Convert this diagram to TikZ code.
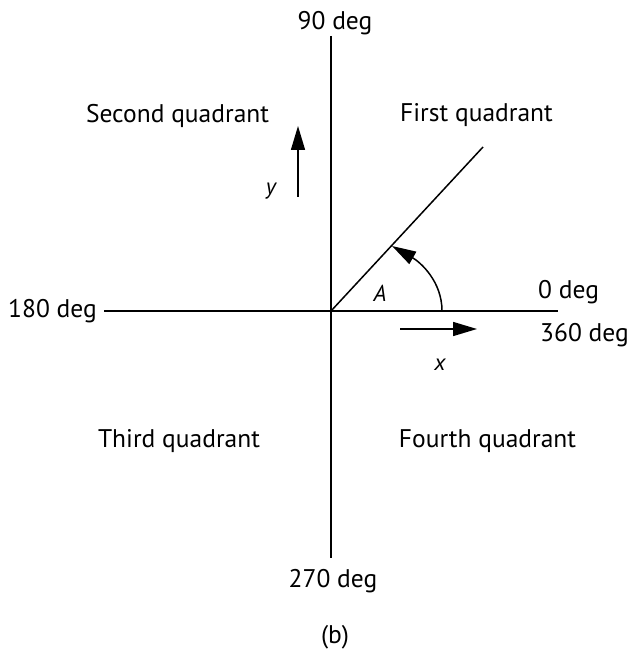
\documentclass[tikz,border=0pt]{standalone}
\usepackage{fontspec}
\setmainfont{PT Sans}
\usetikzlibrary{arrows.meta}
\begin{document}
\begin{tikzpicture}[x=1pt,y=-1pt,
  lbl/.style={anchor=base, inner sep=0pt, font=\fontsize{25.5}{30}\selectfont},
  var/.style={anchor=base, inner sep=0pt, font=\fontsize{23}{27}\selectfont\itshape},
  axisline/.style={line width=1.5pt},
  arr/.style={-{Triangle[length=24pt,width=14pt]}, line width=1.5pt}]
\useasboundingbox (0,0) rectangle (630,652);
% axis end points
\coordinate (O) at (331,311);
\coordinate (top) at (331,36);
\coordinate (bot) at (331,558);
\coordinate (lft) at (104,311);
\coordinate (rgt) at (558,311);
\coordinate (D) at (483,147);
\coordinate (arcS) at (442,311);
\coordinate (arcE) at (392,246);
\coordinate (ya) at (298,197);
\coordinate (yb) at (298,126);
\coordinate (xa) at (400,329);
\coordinate (xb) at (477,329);
% axes
\draw[axisline] (top) -- (bot);
\draw[axisline] (lft) -- (rgt);
\draw[axisline] (O) -- (D);
% angle arrow
\draw[arr] (arcS) .. controls (442,281) and (420,262) .. (arcE);
% direction arrows
\draw[arr] (ya) -- (yb);
\draw[arr] (xa) -- (xb);
% labels
\node[lbl] (n90) at (335,30) {90 deg};
\node[lbl] (n270) at (333,587) {270 deg};
\node[lbl] (nb) at (335,643) {(b)};
\node[lbl, anchor=base east] (n180) at (97,317) {180 deg};
\node[lbl, anchor=base west] (n0) at (538,298) {0 deg};
\node[lbl, anchor=base west] (n360) at (540,341) {360 deg};
\node[lbl] (q2) at (177.5,123) {Second quadrant};
\node[lbl] (q1) at (476.5,122) {First quadrant};
\node[lbl] (q3) at (179,447) {Third quadrant};
\node[lbl] (q4) at (487.5,447) {Fourth quadrant};
\node[var] (lA) at (380,301) {A};
\node[var] (ly) at (271,195) {y};
\node[var] (lx) at (440,370) {x};
\end{tikzpicture}
\end{document}
